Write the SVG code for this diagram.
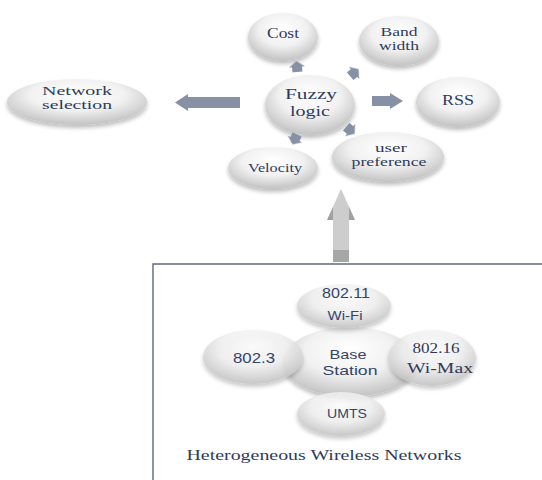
<svg xmlns="http://www.w3.org/2000/svg" width="542" height="480" viewBox="0 0 542 480">
  <defs>
    <radialGradient id="bubble" cx="50%" cy="38%" r="62%" fx="50%" fy="30%">
      <stop offset="0" stop-color="#ffffff"/>
      <stop offset="0.55" stop-color="#f1f1f1"/>
      <stop offset="1" stop-color="#c2c2c2"/>
    </radialGradient>
    <linearGradient id="upArrow" x1="0" y1="0" x2="1" y2="0">
      <stop offset="0" stop-color="#9c9c9c"/>
      <stop offset="0.2" stop-color="#a2a2a2"/>
      <stop offset="0.22" stop-color="#cdcdcd"/>
      <stop offset="0.78" stop-color="#cdcdcd"/>
      <stop offset="0.8" stop-color="#a2a2a2"/>
      <stop offset="1" stop-color="#9c9c9c"/>
    </linearGradient>
    <filter id="shadow" x="-20%" y="-20%" width="140%" height="150%">
      <feGaussianBlur in="SourceAlpha" stdDeviation="2.2"/>
      <feOffset dy="3" result="b"/>
      <feComponentTransfer><feFuncA type="linear" slope="0.26"/></feComponentTransfer>
      <feMerge><feMergeNode/><feMergeNode in="SourceGraphic"/></feMerge>
    </filter>
    <filter id="soft" x="-20%" y="-20%" width="140%" height="140%">
      <feGaussianBlur stdDeviation="0.5"/>
    </filter>
    <!-- small block arrow pointing up, centred on the origin -->
    <path id="tinyArrow" d="M0,-6 L8,0 L5,0 L5,5 L-5,5 L-5,0 L-8,0 Z"/>
  </defs>
  <style>
    .node { fill: url(#bubble); filter: url(#shadow); }
    .sat { fill: url(#bubble); fill-opacity: 0.82; filter: url(#shadow); }
    .serif { font-family: "Liberation Serif", "Times New Roman", serif; fill: #2e3b5c; text-anchor: middle; }
    .sans { font-family: "Liberation Sans", Arial, sans-serif; fill: #34456a; text-anchor: middle; }
    .arrow { fill: #8791a6; filter: url(#soft); }
    .frame { fill: none; stroke: #5a6882; stroke-width: 1.4; }
  </style>

  <rect width="542" height="480" fill="#ffffff"/>

  <!-- fuzzy decision part -->
  <g id="cost">
    <ellipse class="node" cx="283" cy="37" rx="35" ry="24"/>
    <text class="serif" x="283" y="38" font-size="14" textLength="32" lengthAdjust="spacingAndGlyphs">Cost</text>
  </g>
  <g id="bandwidth">
    <ellipse class="node" cx="399" cy="41" rx="40" ry="25"/>
    <text class="serif" x="399" y="36" font-size="12" textLength="37" lengthAdjust="spacingAndGlyphs">Band</text>
    <text class="serif" x="399" y="50" font-size="12" textLength="40" lengthAdjust="spacingAndGlyphs">width</text>
  </g>
  <g id="network-selection">
    <ellipse class="node" cx="77" cy="102" rx="70" ry="23"/>
    <text class="serif" x="77" y="95" font-size="12" textLength="70" lengthAdjust="spacingAndGlyphs">Network</text>
    <text class="serif" x="77" y="109" font-size="12" textLength="70" lengthAdjust="spacingAndGlyphs">selection</text>
  </g>
  <g id="fuzzy-logic">
    <ellipse class="node" cx="310" cy="105" rx="45" ry="30"/>
    <text class="serif" x="311" y="99" font-size="14" textLength="52" lengthAdjust="spacingAndGlyphs">Fuzzy</text>
    <text class="serif" x="310" y="115.5" font-size="14" textLength="40" lengthAdjust="spacingAndGlyphs">logic</text>
  </g>
  <g id="rss">
    <ellipse class="node" cx="458" cy="102" rx="42" ry="25"/>
    <text class="serif" x="458" y="105" font-size="14" textLength="32" lengthAdjust="spacingAndGlyphs">RSS</text>
  </g>
  <g id="velocity">
    <ellipse class="node" cx="273" cy="168" rx="45" ry="21"/>
    <text class="serif" x="275" y="172" font-size="13" textLength="54" lengthAdjust="spacingAndGlyphs">Velocity</text>
  </g>
  <g id="user-preference">
    <ellipse class="node" cx="388" cy="157" rx="56" ry="25"/>
    <text class="serif" x="391" y="152" font-size="11.5" textLength="32" lengthAdjust="spacingAndGlyphs">user</text>
    <text class="serif" x="389" y="166" font-size="11.5" textLength="75" lengthAdjust="spacingAndGlyphs">preference</text>
  </g>

  <!-- heterogeneous networks part -->
  <g id="networks-frame">
    <path class="frame" d="M153,482 L153,264 L544,264"/>
  </g>
  <g id="base-station">
    <ellipse class="node" cx="350" cy="362" rx="67" ry="35"/>
  </g>
  <g id="wifi">
    <ellipse class="sat" cx="344" cy="306" rx="47" ry="22"/>
    <text class="sans" x="346" y="298" font-size="14" textLength="48" lengthAdjust="spacingAndGlyphs">802.11</text>
    <text class="sans" x="345" y="320" font-size="13" textLength="35" lengthAdjust="spacingAndGlyphs">Wi-Fi</text>
  </g>
  <g id="ethernet">
    <ellipse class="sat" cx="253" cy="357" rx="50" ry="27"/>
    <text class="sans" x="254" y="363" font-size="14" textLength="42" lengthAdjust="spacingAndGlyphs">802.3</text>
  </g>
  <g id="wimax">
    <ellipse class="sat" cx="432" cy="358" rx="44" ry="28"/>
    <text class="serif" x="436" y="353" font-size="15" textLength="47" lengthAdjust="spacingAndGlyphs">802.16</text>
    <text class="serif" x="440" y="373" font-size="15" textLength="66" lengthAdjust="spacingAndGlyphs">Wi-Max</text>
  </g>
  <g id="umts">
    <ellipse class="sat" cx="341" cy="414" rx="44" ry="22"/>
    <text class="sans" x="347" y="418" font-size="13" textLength="40" lengthAdjust="spacingAndGlyphs">UMTS</text>
  </g>
  <g id="base-station-label">
    <text class="sans" x="348" y="359" font-size="13" textLength="37" lengthAdjust="spacingAndGlyphs">Base</text>
    <text class="sans" x="350" y="375" font-size="13" textLength="55" lengthAdjust="spacingAndGlyphs">Station</text>
  </g>
  <g id="networks-caption">
    <text class="serif" x="324" y="460" font-size="14" textLength="275" lengthAdjust="spacingAndGlyphs">Heterogeneous Wireless Networks</text>
  </g>

  <!-- connectors -->
  <g id="connectors">
    <path class="arrow" d="M175,102.5 L188,94 L188,97 L240,97 L240,108 L188,108 L188,111 Z"/>
    <path class="arrow" d="M403,101 L390,93 L390,96 L372,96 L372,106 L390,106 L390,109 Z"/>
    <use href="#tinyArrow" class="arrow" transform="translate(297,67) rotate(-5)"/>
    <use href="#tinyArrow" class="arrow" transform="translate(354,73) rotate(50)"/>
    <use href="#tinyArrow" class="arrow" transform="translate(295,139) rotate(205)"/>
    <use href="#tinyArrow" class="arrow" transform="translate(350,130) rotate(130)"/>
    <g id="up-arrow">
      <path d="M341,189 L355,220 L349,220 L349,262 L333,262 L333,220 L327,220 Z" fill="url(#upArrow)"/>
      <rect x="333" y="250" width="16" height="12" fill="#a6a6a6"/>
    </g>
  </g>
</svg>
